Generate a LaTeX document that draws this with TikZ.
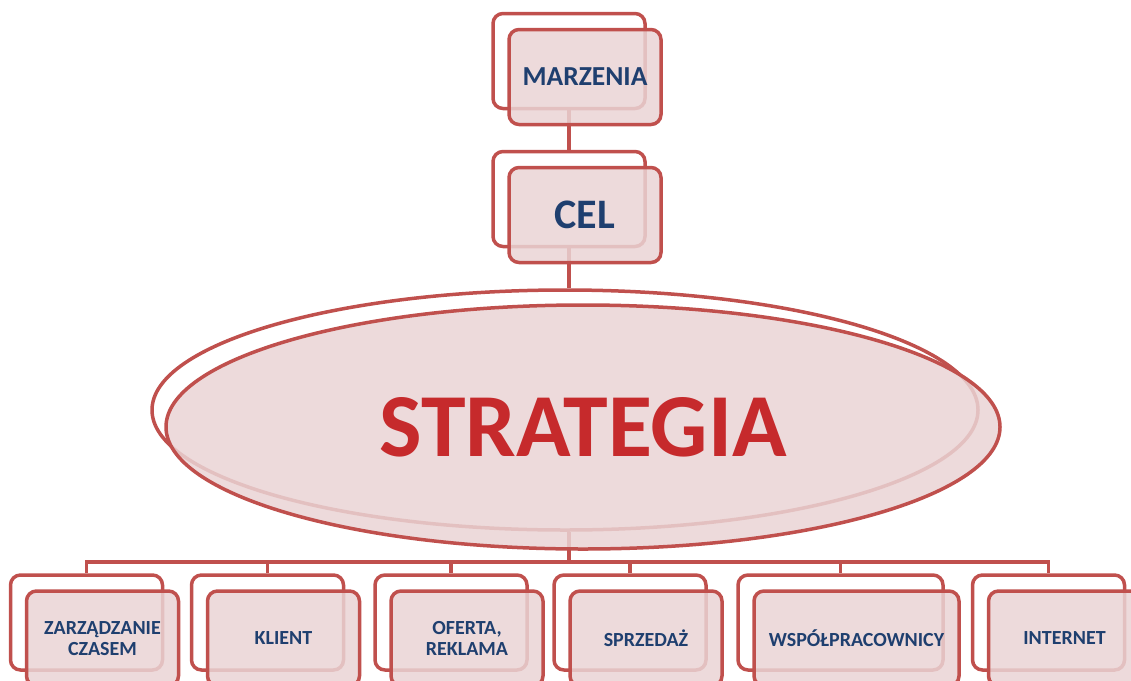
\documentclass[tikz,border=0pt]{standalone}
\usepackage{fontspec}
\setmainfont{Carlito}
\usetikzlibrary{shapes.geometric}
\definecolor{rim}{HTML}{C0504D}
\definecolor{pinkfill}{HTML}{EAD4D5}
\definecolor{navy}{HTML}{1F3F6F}
\definecolor{redtext}{HTML}{C62A2C}

\begin{document}
\begin{tikzpicture}[x=1pt,y=-1pt,
  backbox/.style={draw=rim,line width=3.5pt,fill=white,rounded corners=10pt,
    minimum width=152pt,minimum height=95pt,inner sep=0pt},
  frontbox/.style={backbox,fill=pinkfill,fill opacity=0.85,text opacity=1,
    text=navy,align=center,font=\bfseries\fontsize{20}{21}\selectfont},
  backoval/.style={draw=rim,line width=3.5pt,fill=white,ellipse,inner sep=0pt},
  link/.style={draw=rim,line width=3.5pt}]
\useasboundingbox (0,0) rectangle (1131,680);
\clip (0,0) rectangle (1131,680);
\node[backbox] (marzB) at (569,61) {};
\node[backbox] (celB) at (569,199) {};
\node[backoval,minimum width=826pt,minimum height=240pt] (stratB) at (565,410) {};
\foreach \n/\x in {zarzB/86.5,klientB/267.5,ofertaB/451,sprzB/630,netB/1048.5}
  \node[backbox] (\n) at (\x,622.5) {};
\node[backbox,minimum width=205pt] (wspB) at (840.5,622.5) {};
\coordinate (bus) at (569,562);
\draw[link] (marzB.south) -- (celB.north);
\draw[link] (celB.south) -- (celB.south |- stratB.north);
\draw[link] (bus |- stratB.south) -- (bus);
\draw[link] (zarzB.north) -- (zarzB.north |- bus) -- (netB.north |- bus) -- (netB.north);
\foreach \n in {klientB,ofertaB,sprzB,wspB}
  \draw[link] (\n.north |- bus) -- (\n.north);
\node[frontbox,font=\bfseries\fontsize{27.5}{30}\selectfont] (marz) at ([shift={(16,16)}]marzB.center) {MARZENIA};
\node[frontbox,font=\bfseries\fontsize{42}{44}\selectfont] (cel) at ([shift={(16,16)}]celB.center) {CEL};
\node[backoval,fill=pinkfill,fill opacity=0.85,text opacity=1,text=redtext,
  minimum width=834pt,minimum height=244pt,font=\bfseries\fontsize{90}{96}\selectfont] (strat) at (583,427) {STRATEGIA};
\node[frontbox] (zarz) at ([shift={(16,16)}]zarzB.center) {ZARZĄDZANIE\\CZASEM};
\node[frontbox] (klient) at ([shift={(16,16)}]klientB.center) {KLIENT};
\node[frontbox] (oferta) at ([shift={(16,16)}]ofertaB.center) {OFERTA,\\REKLAMA};
\node[frontbox] (sprz) at ([shift={(16,16)}]sprzB.center) {SPRZEDAŻ};
\node[frontbox,minimum width=205pt] (wsp) at ([shift={(16,16)}]wspB.center) {WSPÓŁPRACOWNICY};
\node[frontbox] (net) at ([shift={(16,16)}]netB.center) {INTERNET};
\end{tikzpicture}
\end{document}
